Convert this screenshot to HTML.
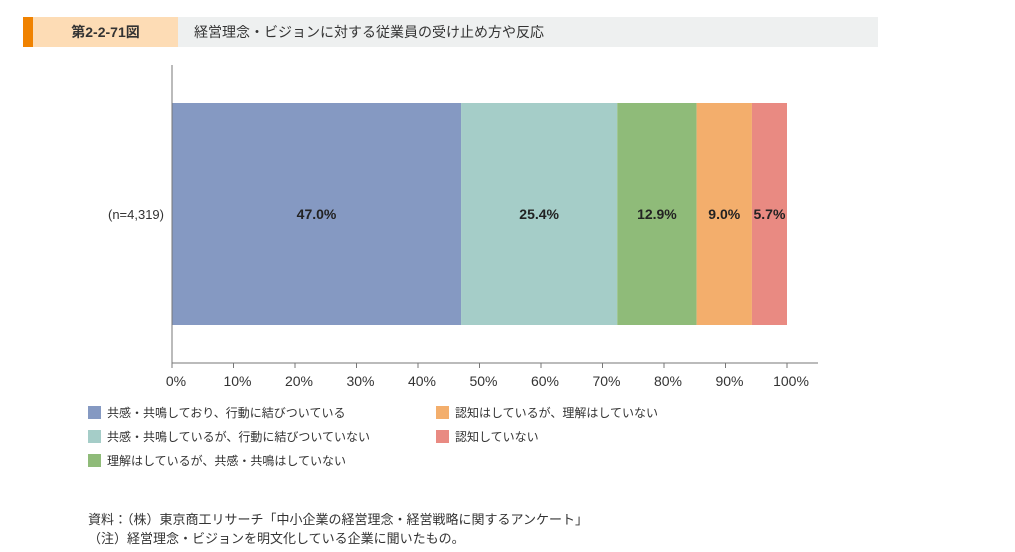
<!DOCTYPE html>
<html><head><meta charset="utf-8"><style>
body{margin:0;width:1015px;height:552px;background:#fff;font-family:"Liberation Sans","Noto Sans CJK JP",sans-serif;position:relative;overflow:hidden;color:#333}
.abs{position:absolute}
.leg{position:absolute;font-size:12px;line-height:14px;white-space:nowrap}
.leg i{display:inline-block;width:13px;height:13px;vertical-align:-2px;margin-right:6px}
</style></head><body>
<div class="abs" style="left:23px;top:17px;width:10px;height:30px;background:#f08200"></div>
<div class="abs" style="left:33px;top:17px;width:145px;height:30px;background:#fddcb5;font-size:14px;font-weight:bold;line-height:30px;text-align:center;color:#333">第2-2-71図</div>
<div class="abs" style="left:178px;top:17px;width:700px;height:30px;background:#eef0f0;font-size:14px;line-height:30px;padding-left:16px;box-sizing:border-box;color:#333">経営理念・ビジョンに対する従業員の受け止め方や反応</div>
<svg class="abs" style="left:0;top:0" width="1015" height="552" id="svg"></svg>
<div class="leg" style="left:88px;top:406px"><i style="background:#8599c2"></i>共感・共鳴しており、行動に結びついている</div>
<div class="leg" style="left:88px;top:430px"><i style="background:#a5cdc8"></i>共感・共鳴しているが、行動に結びついていない</div>
<div class="leg" style="left:88px;top:454px"><i style="background:#8fbb79"></i>理解はしているが、共感・共鳴はしていない</div>
<div class="leg" style="left:436px;top:406px"><i style="background:#f3ae6c"></i>認知はしているが、理解はしていない</div>
<div class="leg" style="left:436px;top:430px"><i style="background:#e98a82"></i>認知していない</div>
<div class="abs" style="left:88px;top:510px;font-size:13px;line-height:19px;white-space:nowrap">資料：（株）東京商工リサーチ「中小企業の経営理念・経営戦略に関するアンケート」<br>（注）経営理念・ビジョンを明文化している企業に聞いたもの。</div>
<script>
const categories=["(n=4,319)"];
const values=[47.0,25.4,12.9,9.0,5.7];
const labels=["47.0%","25.4%","12.9%","9.0%","5.7%"];
const colors=["#8599c2","#a5cdc8","#8fbb79","#f3ae6c","#e98a82"];
const ticks=[0,10,20,30,40,50,60,70,80,90,100];
const svg=document.getElementById('svg');const NS="http://www.w3.org/2000/svg";
const x0=172,x1=787;const xs=v=>x0+(x1-x0)*v/100;
function mk(t,a,txt){const e=document.createElementNS(NS,t);for(const k in a)e.setAttribute(k,a[k]);if(txt!=null)e.textContent=txt;svg.appendChild(e);return e;}
let acc=0;
values.forEach((v,i)=>{
 const r=mk('rect',{x:xs(acc),y:103,width:xs(acc+v)-xs(acc),height:222,fill:colors[i]});
 
 
 const t=mk('text',{x:xs(acc+v/2),y:219,'text-anchor':'middle','font-size':14,'font-weight':'bold',fill:'#222'},labels[i]);
 
 
 acc+=v;
});
const c=mk('text',{x:164,y:219,'text-anchor':'end','font-size':13,fill:'#333'},categories[0]);


const ya=mk('line',{x1:172,y1:65,x2:172,y2:363,stroke:'#777','stroke-width':1});


const xa=mk('line',{x1:172,y1:363,x2:818,y2:363,stroke:'#777','stroke-width':1});


ticks.forEach(t=>{
 const l=mk('line',{x1:xs(t),y1:363,x2:xs(t),y2:368,stroke:'#777'});
 
 
 const tx=mk('text',{x:xs(t)+4,y:386,'text-anchor':'middle','font-size':14,fill:'#333'},t+'%');
 
 
});
</script>
</body></html>
